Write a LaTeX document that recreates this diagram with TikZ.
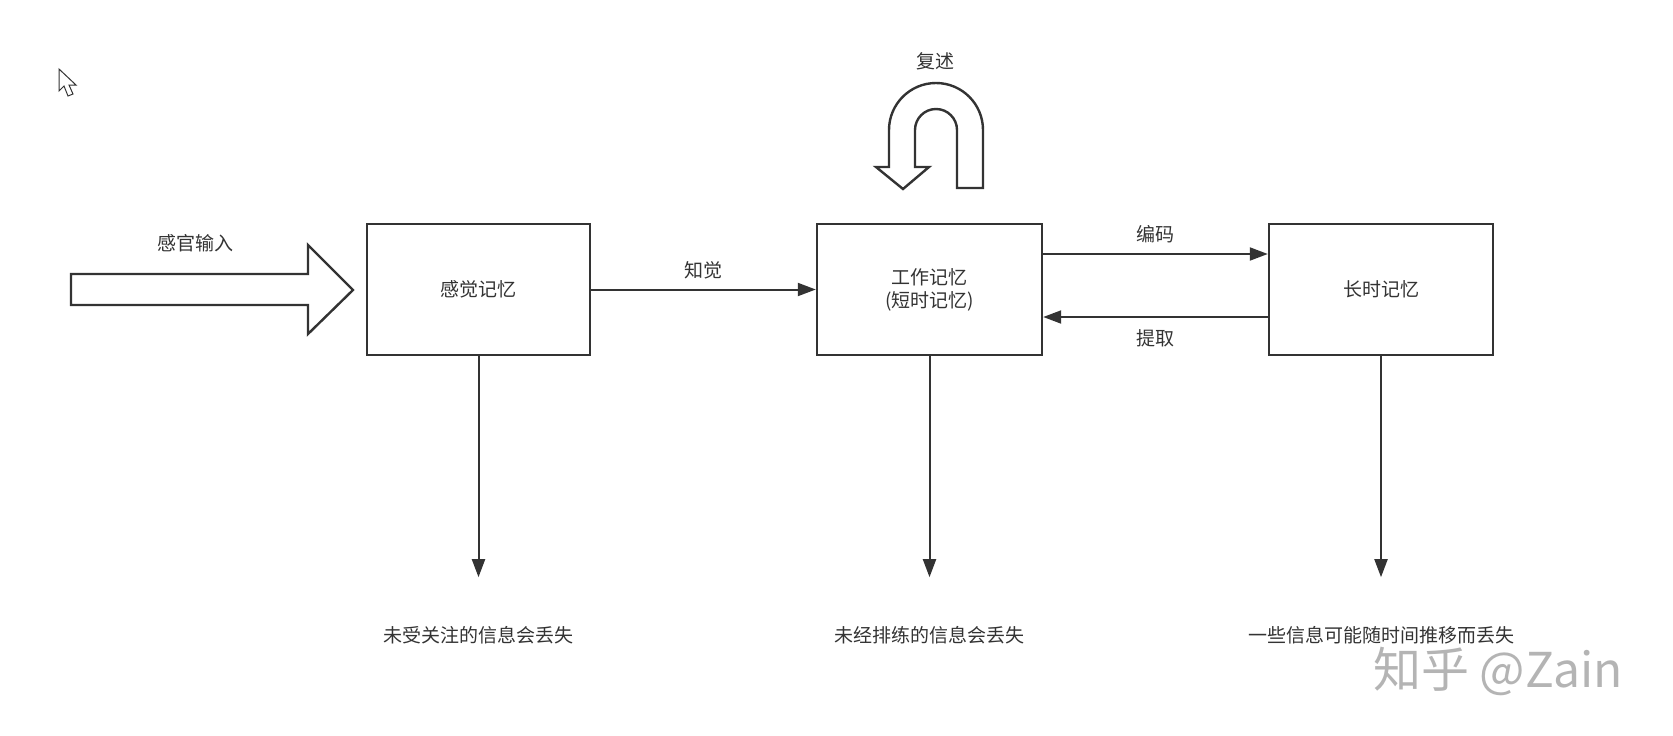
\documentclass[tikz,border=0pt]{standalone}
\usepackage{xcolor}
\usepackage{fontspec}
\usepackage{tikz}
\newfontfamily\cjk{Noto Sans CJK SC}
\usetikzlibrary{positioning,calc,arrows.meta}

\definecolor{ink}{HTML}{333333}
\definecolor{mark}{HTML}{B4B4B4}

\tikzset{
    membox/.style={draw=ink, line width=2.4pt, fill=white, minimum height=131pt, inner sep=0pt, align=center},
    conn/.style={draw=ink, line width=2pt, -{Triangle[length=18pt,width=13pt]}},
    lbl/.style={text=ink, font=\cjk\fontsize{19}{23}\selectfont, inner sep=1pt, align=center},
    fatarrow/.style={draw=ink, line width=2.4pt, fill=white, line join=miter}
}

\begin{document}
\begin{tikzpicture}[x=1pt, y=-1pt]
    \useasboundingbox (0,0) rectangle (1673,736);

    % cursor
    \draw[ink, line width=1pt, fill=white] (59,69) -- (59,91) -- (64,86) -- (68,96) -- (73,94) -- (69,85) -- (76,85) -- cycle;

    % Boxes
    \node[membox, lbl, minimum width=223pt] (sens) at (478.5,289.5) {感觉记忆};
    \node[membox, lbl, minimum width=225pt] (work) at (929.5,289.5) {工作记忆\\(短时记忆)};
    \node[membox, lbl, minimum width=224pt] (long) at (1381,289.5) {长时记忆};

    % sensory input
    \draw[fatarrow] (71,274) -- (308,274) -- (308,245) -- (353,290) -- (308,334) -- (308,305) -- (71,305) -- cycle;
    \node[lbl] (input) at (195,243) {感官输入};

    % rehearsal loop
    \draw[fatarrow] (983,188) -- (983,130) arc[start angle=0, end angle=180, radius=47pt]
        -- (889,167) -- (876,167) -- (903,189) -- (929,167) -- (915,167) -- (915,130)
        arc[start angle=180, end angle=0, radius=21pt] -- (957,188) -- cycle;
    \node[lbl] (rehearse) at (935,61) {复述};

    % Connectors
    \draw[conn] (sens.east) -- (work.west) node[lbl, midway, above=8pt] (percept) {知觉};
    \draw[conn] ([yshift=35.5pt]work.east) -- ([yshift=35.5pt]long.west) node[lbl, midway, above=9pt] (encode) {编码};
    \draw[conn] ([yshift=-27.5pt]long.west) -- ([yshift=-27.5pt]work.east) node[lbl, midway, below=11pt] (retrieve) {提取};

    % forgetting
    \foreach \m/\txt in {sens/未受关注的信息会丢失, work/未经排练的信息会丢失, long/一些信息可能随时间推移而丢失} {
        \coordinate (\m-end) at ($(\m.south)+(0,221)$);
        \draw[conn] (\m.south) -- (\m-end);
        \node[lbl] (\m-loss) at ($(\m.south)+(0,279)$) {\txt};
    }

    \node[text=mark, font=\cjk\fontsize{48}{50}\selectfont, inner sep=0pt] (zhihu) at (1498,671) {知乎 @Zain};
\end{tikzpicture}
\end{document}
